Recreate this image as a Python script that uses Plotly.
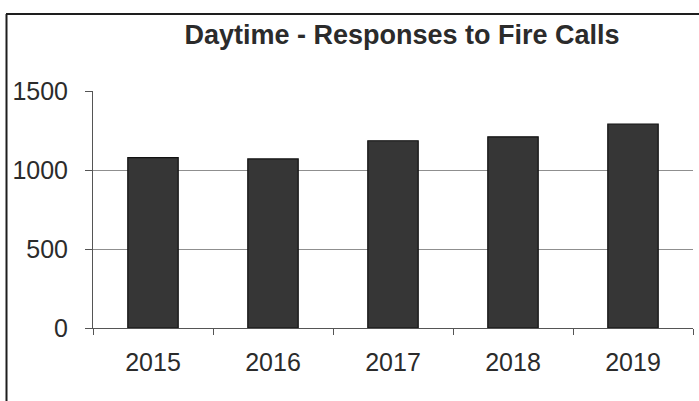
import plotly.graph_objects as go

# Daytime responses to fire calls, by year
years = ["2015", "2016", "2017", "2018", "2019"]
responses = [1078, 1070, 1185, 1210, 1290]
y_ticks = [0, 500, 1000, 1500]

TEXT = "#2b2b2b"
FONT = "Liberation Sans, Arial, sans-serif"

fig = go.Figure(
    go.Bar(
        x=years,
        y=responses,
        marker=dict(color="#363636", line=dict(color="#111111", width=1.2)),
        width=0.42,
    )
)

W, H = 699, 401
L, R, T, B = 93, 6, 91, 73

fig.update_layout(
    width=W,
    height=H,
    margin=dict(l=L, r=R, t=T, b=B, pad=0),
    paper_bgcolor="white",
    plot_bgcolor="white",
    showlegend=False,
    font=dict(family=FONT, color=TEXT),
    title=dict(
        text="<b>Daytime - Responses to Fire Calls</b>",
        x=402 / W,
        xanchor="center",
        y=1 - 35 / H,
        yanchor="middle",
        font=dict(size=27, color=TEXT, family=FONT),
    ),
    xaxis=dict(
        type="category",
        range=[-0.5, 4.5],
        showgrid=False,
        showline=True,
        linecolor="#555555",
        linewidth=1,
        ticks="outside",
        tickson="boundaries",
        ticklen=6,
        tickcolor="#555555",
        tickfont=dict(size=25, color=TEXT),
        ticklabelstandoff=12,
    ),
    yaxis=dict(
        range=[0, 1500],
        tickvals=y_ticks,
        showgrid=True,
        gridcolor="#8f8f8f",
        gridwidth=1,
        showline=True,
        linecolor="#555555",
        linewidth=1,
        ticks="outside",
        ticklen=7,
        tickcolor="#555555",
        tickfont=dict(size=25, color=TEXT),
        ticklabelstandoff=12,
        zeroline=False,
    ),
)

# Outer frame: top edge and left edge of the chart box
pw, ph = W - L - R, H - T - B
def px(x):
    return (x - L) / pw
def py(y):
    return (H - B - y) / ph

frame = dict(color="#1e1e1e", width=2)
fig.add_shape(type="line", xref="paper", yref="paper",
              x0=px(6), y0=py(14), x1=px(699), y1=py(14), line=frame)
fig.add_shape(type="line", xref="paper", yref="paper",
              x0=px(6.5), y0=py(14), x1=px(6.5), y1=py(401), line=frame)

fig.write_html("out.html")
